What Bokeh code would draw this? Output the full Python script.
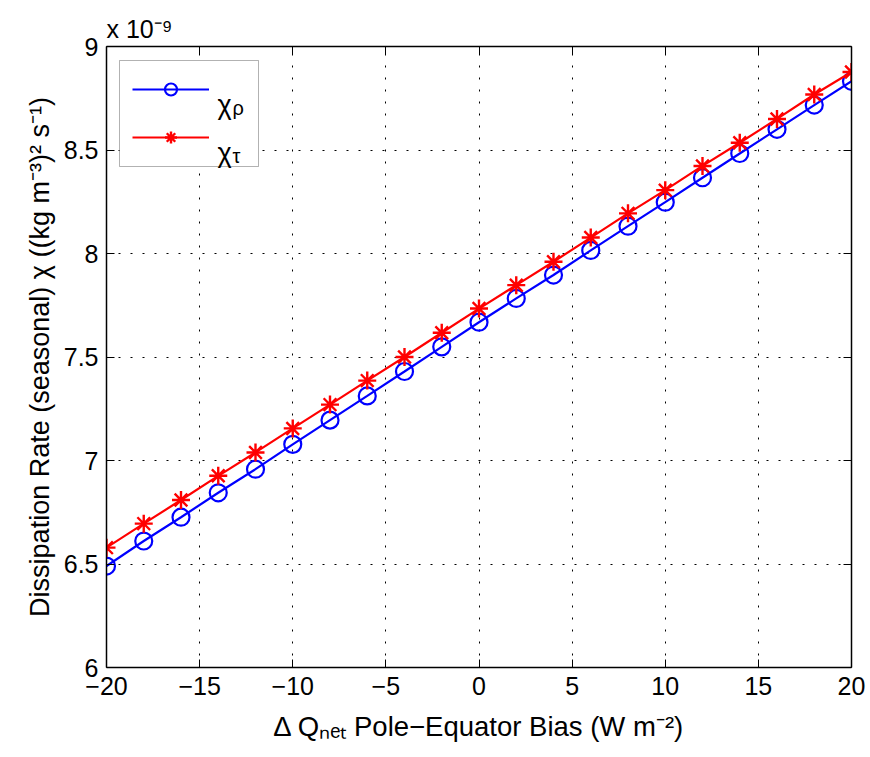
from bokeh.plotting import figure
from bokeh.models import (Label, Legend, LegendItem, LinearAxis, FixedTicker, Range1d,
                          BoxAnnotation)
from bokeh.embed import file_html
from bokeh.resources import INLINE

# ---------------- data ----------------
bias = [-20, -18, -16, -14, -12, -10, -8, -6, -4, -2, 0, 2, 4, 6, 8, 10, 12, 14, 16, 18, 20]
chi_rho = [6.49, 6.611, 6.726, 6.844, 6.958, 7.078, 7.195, 7.312, 7.43, 7.549, 7.668,
           7.783, 7.896, 8.015, 8.132, 8.248, 8.366, 8.483, 8.60, 8.717, 8.832]
chi_tau = [6.579, 6.695, 6.809, 6.926, 7.039, 7.155, 7.27, 7.386, 7.50, 7.617, 7.734,
           7.847, 7.96, 8.077, 8.194, 8.306, 8.423, 8.535, 8.65, 8.768, 8.877]
x_ticks = [-20, -15, -10, -5, 0, 5, 10, 15, 20]
x_tick_labels = ["−20", "−15", "−10", "−5", "0", "5", "10", "15", "20"]
y_ticks = [6, 6.5, 7, 7.5, 8, 8.5, 9]
y_tick_labels = ["6", "6.5", "7", "7.5", "8", "8.5", "9"]

FONT = "Liberation Sans"
W, H = 870, 757
FL, FR, FT, FB = 106, 851, 46, 667  # frame edges in picture coordinates

p = figure(width=W, height=H, output_backend="svg", toolbar_location=None,
           x_range=Range1d(-20, 20), y_range=Range1d(6, 9),
           min_border_left=FL, min_border_right=W - FR,
           min_border_top=FT, min_border_bottom=H - FB)
p.background_fill_color = "white"
p.border_fill_color = "white"
p.outline_line_color = None

p.title.text = "x 10⁻⁹"
p.title.align = "left"
p.title.text_font = FONT
p.title.text_font_size = "25px"
p.title.text_font_style = "normal"
p.title.text_color = "black"
p.title.standoff = 7

p.add_layout(LinearAxis(), "above")
p.add_layout(LinearAxis(), "right")

for ax in p.xaxis:
    ax.ticker = FixedTicker(ticks=x_ticks)
for ax in p.yaxis:
    ax.ticker = FixedTicker(ticks=y_ticks)
p.below[0].major_label_overrides = dict(zip(x_ticks, x_tick_labels))
p.left[0].major_label_overrides = dict(zip(y_ticks, y_tick_labels))
p.above[0].major_label_overrides = {t: "" for t in x_ticks}
p.right[0].major_label_overrides = {t: "" for t in y_ticks}

for ax in list(p.xaxis) + list(p.yaxis):
    ax.axis_line_color = "black"
    ax.axis_line_width = 1.5
    ax.major_tick_line_color = "black"
    ax.major_tick_line_width = 1
    ax.major_tick_in = 8
    ax.major_tick_out = 0
    ax.minor_tick_line_color = None
    ax.major_label_text_font = FONT
    ax.major_label_text_font_size = "25px"
    ax.major_label_text_color = "black"
    ax.axis_label_text_font = FONT
    ax.axis_label_text_font_style = "normal"
    ax.axis_label_text_color = "black"

p.above[0].major_label_standoff = 0
p.right[0].major_label_standoff = 0
p.below[0].major_label_standoff = 9
p.left[0].major_label_standoff = 8

p.below[0].axis_label = "Δ Qₙₑₜ Pole−Equator Bias (W m⁻²)"
p.below[0].axis_label_text_font_size = "27.5px"
p.below[0].axis_label_standoff = 13
p.left[0].axis_label = "Dissipation Rate (seasonal) χ ((kg m⁻³)² s⁻¹)"
p.left[0].axis_label_text_font_size = "27px"
p.left[0].axis_label_standoff = 6

for g in (p.xgrid[0], p.ygrid[0]):
    g.grid_line_color = "black"
    g.grid_line_dash = "2 10"
    g.grid_line_width = 1

# legend frame (white box with black border)
p.add_layout(BoxAnnotation(left=119 - FL, right=258 - FL, top=FB - 60, bottom=FB - 166,
                           left_units="screen", right_units="screen",
                           top_units="screen", bottom_units="screen",
                           fill_color="white", fill_alpha=1.0,
                           line_color="black", line_width=1, level="underlay"))

BLUE = "#0000ff"
RED = "#ff0000"
l_rho = p.line(bias, chi_rho, line_color=BLUE, line_width=2.2)
m_rho = p.scatter(bias, chi_rho, marker="circle", size=17, fill_color=None,
                  line_color=BLUE, line_width=2.2)
l_tau = p.line(bias, chi_tau, line_color=RED, line_width=2.2)
m_tau = p.scatter(bias, chi_tau, marker="asterisk", size=18, line_color=RED, line_width=2.4)

legend = Legend(items=[LegendItem(label=" ", renderers=[l_rho, m_rho]),
                       LegendItem(label=" ", renderers=[l_tau, m_tau])],
                location=(132 - FL, FB - 152), padding=14, spacing=18,
                glyph_width=77, glyph_height=30, label_height=30, label_width=27,
                label_standoff=7, margin=0,
                label_text_font=FONT, label_text_font_size="25px", label_text_color="black",
                border_line_color=None, background_fill_alpha=0.0)
p.add_layout(legend, "center")


def lab(text, px, py, size):
    p.add_layout(Label(x=px - FL, y=FB - py, x_units="screen", y_units="screen",
                       text=text, text_font=FONT, text_font_size=size,
                       text_color="black", text_align="left",
                       text_baseline="alphabetic", level="overlay"))


# legend texts
lab("χ", 217, 104, "27px")
lab("ρ", 232, 107, "20px")
lab("χ", 217, 152, "27px")
lab("τ", 232, 155, "20px")

open("out.html", "w").write(file_html(p, INLINE))
